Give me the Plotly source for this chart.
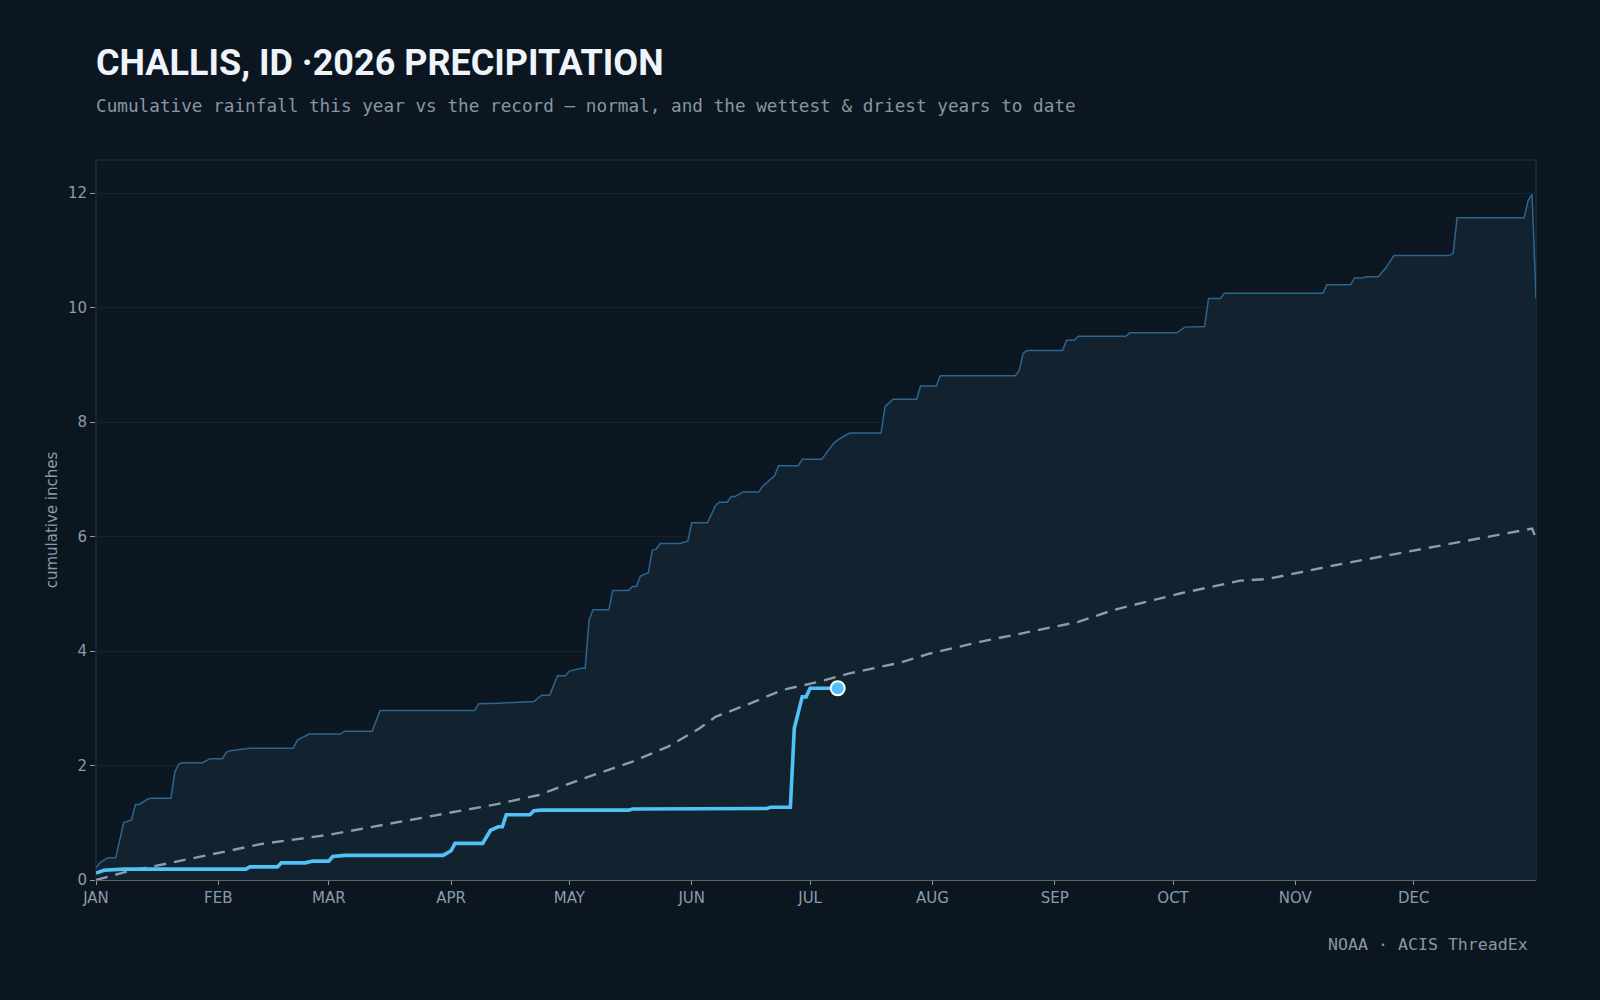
import plotly.graph_objects as go

# ---- data (day of year, cumulative inches) ----
wet_day = [1, 2, 4, 6, 8, 10, 11, 12, 14, 15, 20, 21, 22, 23, 28, 30, 33, 34, 35, 38, 40,
           51, 52, 53, 55, 63, 64, 71, 73, 97, 98, 103, 112, 114, 116, 118, 120, 121, 124, 125,
           126, 127, 131, 132, 136, 137, 138, 139, 141, 142, 143, 144, 149, 151, 152, 156, 158,
           159, 161, 162, 163, 165, 169, 170, 171, 173, 174, 179, 180, 185, 186, 188, 189, 192,
           200, 201, 203, 209, 210, 214, 215, 234, 235, 236, 237, 246, 247, 249, 250, 262, 263,
           275, 277, 282, 283, 286, 287, 312, 313, 319, 320, 322, 323, 326, 328, 330, 344, 345,
           346, 363, 364, 365, 366]
wet_val = [0.21, 0.30, 0.39, 0.39, 1.00, 1.05, 1.32, 1.32, 1.41, 1.43, 1.43, 1.89, 2.03, 2.05,
           2.05, 2.12, 2.12, 2.23, 2.26, 2.28, 2.30, 2.30, 2.44, 2.48, 2.55, 2.55, 2.60, 2.60,
           2.96, 2.96, 3.08, 3.09, 3.12, 3.23, 3.23, 3.57, 3.57, 3.65, 3.70, 3.70, 4.55, 4.72,
           4.72, 5.06, 5.06, 5.13, 5.13, 5.31, 5.37, 5.76, 5.78, 5.88, 5.88, 5.92, 6.24, 6.24,
           6.54, 6.60, 6.60, 6.70, 6.70, 6.78, 6.78, 6.88, 6.94, 7.06, 7.24, 7.24, 7.35, 7.35,
           7.45, 7.63, 7.69, 7.81, 7.81, 8.27, 8.40, 8.40, 8.63, 8.63, 8.81, 8.81, 8.90, 9.20,
           9.25, 9.25, 9.43, 9.43, 9.50, 9.50, 9.56, 9.56, 9.66, 9.67, 10.16, 10.16, 10.25,
           10.25, 10.40, 10.40, 10.52, 10.52, 10.54, 10.54, 10.70, 10.91, 10.91, 10.95, 11.57,
           11.57, 11.87, 11.98, 10.16]

norm_day = [1, 9, 15, 28, 43, 60, 76, 91, 103, 113, 124, 137, 146, 154, 158, 167, 175, 184,
            192, 205, 212, 225, 242, 250, 259, 276, 291, 298, 315, 332, 348, 365, 366]
norm_val = [0.00, 0.15, 0.23, 0.42, 0.63, 0.79, 0.99, 1.18, 1.33, 1.48, 1.76, 2.07, 2.33, 2.65,
            2.85, 3.09, 3.32, 3.46, 3.61, 3.80, 3.95, 4.16, 4.40, 4.51, 4.72, 5.01, 5.23, 5.26,
            5.50, 5.72, 5.92, 6.14, 5.97]

yr_day = [1, 3, 8, 39, 40, 47, 48, 54, 56, 60, 61, 64, 89, 91, 92, 99, 101, 103, 104, 105, 111,
          112, 114, 136, 137, 146, 147, 171, 172, 177, 178, 180, 181, 182, 189]
yr_val = [0.12, 0.17, 0.19, 0.19, 0.23, 0.23, 0.30, 0.30, 0.33, 0.33, 0.41, 0.43, 0.43, 0.51,
          0.64, 0.64, 0.87, 0.93, 0.93, 1.14, 1.14, 1.21, 1.22, 1.22, 1.24, 1.24, 1.25, 1.25,
          1.27, 1.27, 2.65, 3.20, 3.20, 3.35, 3.35]

month_start = [1, 32, 60, 91, 121, 152, 182, 213, 244, 274, 305, 335]
month_label = ["JAN", "FEB", "MAR", "APR", "MAY", "JUN", "JUL", "AUG", "SEP", "OCT", "NOV", "DEC"]
y_ticks = [0, 2, 4, 6, 8, 10, 12]

BG = "#0c1620"
TICK = "#8a9bab"

fig = go.Figure()
fig.add_trace(go.Scatter(x=wet_day, y=wet_val, mode="lines", fill="tozeroy",
                         fillcolor="#13222f", line=dict(color="#2b6690", width=1.5),
                         hoverinfo="skip"))
fig.add_trace(go.Scatter(x=norm_day, y=norm_val, mode="lines",
                         line=dict(color="#8d9cab", width=2.4, dash="12px,8px"),
                         hoverinfo="skip"))
fig.add_trace(go.Scatter(x=yr_day, y=yr_val, mode="lines",
                         line=dict(color="#4fc3f7", width=3.6), hoverinfo="skip"))
fig.add_trace(go.Scatter(x=[yr_day[-1]], y=[yr_val[-1]], mode="markers",
                         marker=dict(color="#4fc3f7", size=14,
                                     line=dict(color="#ffffff", width=2)),
                         hoverinfo="skip"))

fig.update_layout(
    width=1600, height=1000,
    paper_bgcolor=BG, plot_bgcolor="#0d1721",
    margin=dict(l=96, r=64, t=160, b=120),
    showlegend=False,
    font=dict(family="DejaVu Sans", color=TICK, size=15),
    xaxis=dict(range=[1, 366], tickvals=month_start, ticktext=month_label,
               showgrid=False, zeroline=False, showline=True, linecolor="#646258",
               linewidth=1.2, ticks="outside", ticklen=4, tickcolor=TICK,
               tickfont=dict(size=15, color=TICK)),
    yaxis=dict(range=[0, 12.58], tickvals=y_ticks, showgrid=True, gridcolor="#152330",
               gridwidth=1, zeroline=False, showline=False, ticks="outside", ticklen=5,
               tickcolor=TICK, tickfont=dict(size=15, color=TICK),
               title=dict(text="cumulative inches", standoff=6,
                          font=dict(size=15, color=TICK))),
    shapes=[dict(type="rect", xref="paper", yref="paper", x0=0, x1=1, y0=0, y1=1,
                 line=dict(color="#1b2d3d", width=1.5), layer="below")],
    annotations=[
        dict(text="<b>CHALLIS, ID ·2026 PRECIPITATION</b>", xref="paper", yref="paper",
             x=-0.0015, y=1.1347, xanchor="left", yanchor="middle", showarrow=False,
             font=dict(family="Roboto", size=36, color="#eef4fa")),
        dict(text="Cumulative rainfall this year vs the record — normal, and the wettest & driest years to date",
             xref="paper", yref="paper", x=-0.0015, y=1.075, xanchor="left", yanchor="middle",
             showarrow=False, font=dict(family="DejaVu Sans Mono", size=17.7, color="#8796a4")),
        dict(text="NOAA · ACIS ThreadEx", xref="paper", yref="paper", x=0.996, y=-0.0889,
             xanchor="right", yanchor="middle", showarrow=False,
             font=dict(family="DejaVu Sans Mono", size=16.6, color="#8796a4")),
    ],
)

fig.write_html("out.html")
